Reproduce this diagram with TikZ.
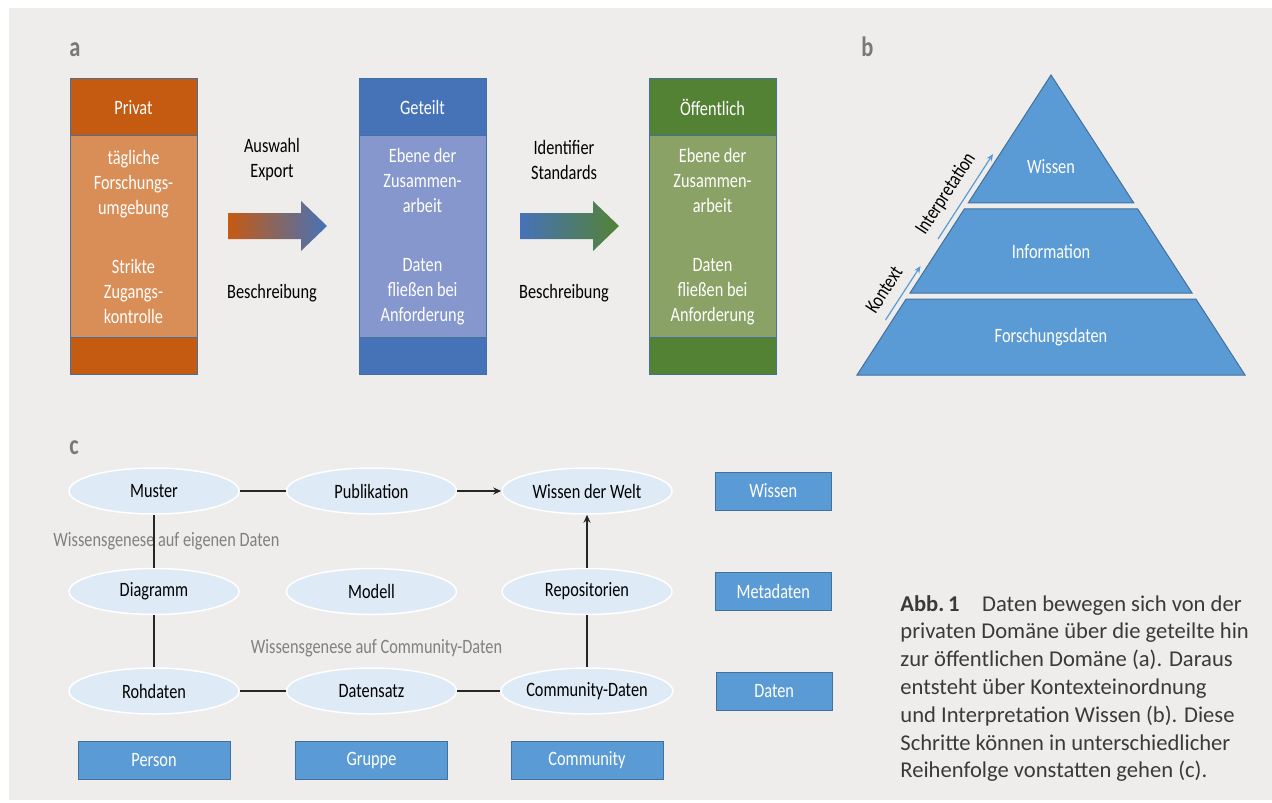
\documentclass[tikz,border=0pt]{standalone}
\usepackage{fontspec}
\setmainfont{Carlito}
\newfontfamily\narrowfont[FakeStretch=0.8]{Carlito}
\usetikzlibrary{positioning, arrows.meta, shapes.geometric, calc}

\definecolor{paper}{RGB}{238,237,235}
\definecolor{edgeblue}{RGB}{65,113,156}
\definecolor{privdark}{RGB}{197,90,17}
\definecolor{privlight}{RGB}{217,142,88}
\definecolor{teildark}{RGB}{70,114,184}
\definecolor{teillight}{RGB}{133,151,204}
\definecolor{oeffdark}{RGB}{84,130,53}
\definecolor{oefflight}{RGB}{138,162,101}
\definecolor{pyrblue}{RGB}{91,155,213}
\definecolor{ovalfill}{RGB}{222,235,247}
\definecolor{notegray}{RGB}{128,128,128}
\definecolor{lettergray}{RGB}{120,120,120}
\definecolor{captext}{RGB}{58,58,58}

\newcommand{\lblfont}{\narrowfont\fontsize{10.2}{12.5}\selectfont}

\begin{document}
\begin{tikzpicture}[
    x=0.5pt, y=-0.5pt,
    panel/.style={font=\narrowfont\bfseries\fontsize{14}{16}\selectfont, text=lettergray,
                  anchor=base west, inner sep=0pt},
    colhead/.style={draw=edgeblue, line width=0.5pt, minimum width=63.5pt, minimum height=28.5pt,
                    inner sep=0pt, outer sep=0pt, text=white, align=center, font=\lblfont},
    colbody/.style={colhead, minimum height=100.5pt},
    colfoot/.style={colhead, minimum height=18.5pt},
    steplbl/.style={font=\lblfont, align=center, inner sep=0pt},
    layerlbl/.style={font=\lblfont, text=white, inner sep=0pt},
    oval/.style={ellipse, fill=ovalfill, draw=white, line width=0.75pt, minimum width=85pt,
                 minimum height=23pt, inner sep=0pt, font=\lblfont},
    tag/.style={fill=pyrblue, draw=edgeblue, line width=0.5pt, minimum height=19pt,
                inner sep=0pt, text=white, font=\lblfont},
    note/.style={font=\lblfont, text=notegray, inner sep=0pt},
    link/.style={line width=0.6pt, black!85},
    arr/.style={link, -{Stealth[length=4pt, width=3.5pt]}},
    side/.style={line width=0.6pt, pyrblue, -{Stealth[length=3.5pt, width=3pt]}},
    layer/.style={fill=pyrblue, draw=edgeblue, line width=0.5pt},
]

\fill[white] (0,0) rectangle (1272,802);
\useasboundingbox (0,0) rectangle (1272,802);
\fill[paper] (9,8) rectangle (1272,800);

% a: domains
\node[panel] (lbla) at (69,57) {a};

\node[colhead, fill=privdark] (privhead) at (133.5,107.5) {Privat};
\node[colbody, fill=privlight, below=0pt of privhead] (privbody)
    {tägliche\\Forschungs-\\umgebung\\[17pt]Strikte\\Zugangs-\\kontrolle};
\node[colfoot, fill=privdark, below=0pt of privbody] (privfoot) {};

\node[colhead, fill=teildark, right=81pt of privhead] (teilhead) {Geteilt};
\node[colbody, fill=teillight, below=0pt of teilhead] (teilbody)
    {Ebene der\\Zusammen-\\arbeit\\[17pt]Daten\\fließen bei\\Anforderung};
\node[colfoot, fill=teildark, below=0pt of teilbody] (teilfoot) {};

\node[colhead, fill=oeffdark, right=81.5pt of teilhead] (oeffhead) {Öffentlich};
\node[colbody, fill=oefflight, below=0pt of oeffhead] (oeffbody)
    {Ebene der\\Zusammen-\\arbeit\\[17pt]Daten\\fließen bei\\Anforderung};
\node[colfoot, fill=oeffdark, below=0pt of oeffbody] (oefffoot) {};

% block arrows
\coordinate (flowa) at (228,226);
\coordinate (flowb) at (520,226);
\shade[shift={(flowa)}, left color=privdark, middle color=teildark!55!privdark!80!violet, right color=teildark]
    (0,-13) -- (73,-13) -- (73,-25) -- (99,0) -- (73,25) -- (73,13) -- (0,13) -- cycle;
\shade[shift={(flowb)}, left color=teildark, right color=oeffdark]
    (0,-13) -- (73,-13) -- (73,-25) -- (99,0) -- (73,25) -- (73,13) -- (0,13) -- cycle;

\node[steplbl] (pick) at (272,160) {Auswahl\\Export};
\node[steplbl] (desca) at (272,293) {Beschreibung};
\node[steplbl] (ident) at (564,160) {Identifier\\Standards};
\node[steplbl] (descb) at (564,293) {Beschreibung};

% b: pyramid
\node[panel] (lblb) at (861,57) {b};
\coordinate (apex) at (1051,75);
\filldraw[layer] (apex) -- (1133.8,203) -- (968.2,203) -- cycle;
\filldraw[layer] (964.3,209) -- (1137.7,209) -- (1192,293) -- (910,293) -- cycle;
\filldraw[layer] (906.1,299) -- (1195.9,299) -- (1245,375) -- (857,375) -- cycle;
\node[layerlbl] (wissen) at (1051,167) {Wissen};
\node[layerlbl] (info) at (1051,252) {Information};
\node[layerlbl] (fdaten) at (1051,337) {Forschungsdaten};

\coordinate (ka) at (885.5,320);
\coordinate (kb) at (920.5,266);
\coordinate (ia) at (938,239);
\coordinate (ib) at (993,154);
\draw[side] (ka) -- (kb);
\draw[side] (ia) -- (ib);
\node[font=\lblfont, rotate=57, inner sep=0pt] (kontext) at (884,290) {Kontext};
\node[font=\lblfont, rotate=57, inner sep=0pt] (interp) at (946,194) {Interpretation};

% c: knowledge genesis
\node[panel] (lblc) at (69,454) {c};
\node[oval] (muster) at (154,491) {Muster};
\node[oval, right=23pt of muster] (publ) {Publikation};
\node[oval, right=22pt of publ] (welt) {Wissen der Welt};
\node[oval, below=26.5pt of muster] (diagramm) {Diagramm};
\node[oval, below=26.5pt of publ] (modell) {Modell};
\node[oval, below=26.5pt of welt] (repo) {Repositorien};
\node[oval, below=26pt of diagramm] (rohdaten) {Rohdaten};
\node[oval, below=26pt of modell] (datensatz) {Datensatz};
\node[oval, below=26pt of repo] (commdaten) {Community-Daten};

\node[tag, minimum width=58pt, right=21pt of welt] (lvwissen) {Wissen};
\node[tag, minimum width=58pt, right=21pt of repo] (lvmeta) {Metadaten};
\node[tag, minimum width=58pt, right=21pt of commdaten] (lvdaten) {Daten};
\node[tag, minimum width=76pt, below=13pt of rohdaten] (person) {Person};
\node[tag, minimum width=76pt, below=13pt of datensatz] (gruppe) {Gruppe};
\node[tag, minimum width=76pt, below=13pt of commdaten] (community) {Community};

\node[note, anchor=west] (ownnote) at (53,541) {Wissensgenese auf eigenen Daten};
\node[note, above=5pt of datensatz, xshift=2.5pt] (commnote) {Wissensgenese auf Community-Daten};

\draw[link] (muster) -- (publ);
\draw[arr] (publ) -- (welt);
\draw[link] (muster) -- (diagramm);
\draw[link] (diagramm) -- (rohdaten);
\draw[link] (rohdaten) -- (datensatz);
\draw[link] (datensatz) -- (commdaten);
\draw[link] (commdaten) -- (repo);
\draw[arr] (repo) -- (welt);

% caption
\node[anchor=west, align=left, inner sep=0pt, text=captext,
      font=\fontsize{11.3}{13.9}\selectfont] (caption) at (900,688.5)
    {\textbf{Abb.\,1}\quad Daten bewegen sich von der\\
     privaten Domäne über die geteilte hin\\
     zur öffentlichen Domäne (a). Daraus\\
     entsteht über Kontexteinordnung\\
     und Interpretation Wissen (b). Diese\\
     Schritte können in unterschiedlicher\\
     Reihenfolge vonstatten gehen (c).};

\end{tikzpicture}
\end{document}
